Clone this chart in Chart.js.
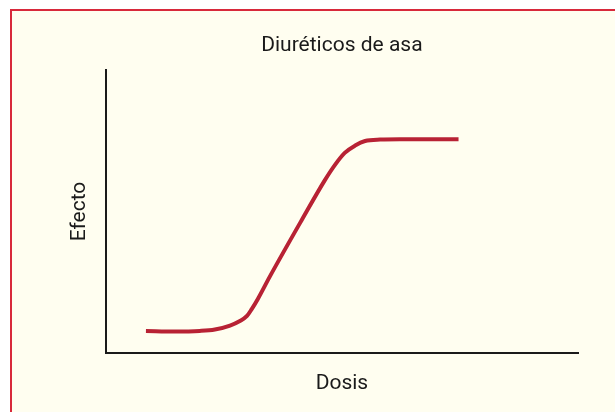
<!DOCTYPE html>
<html>
<head>
<meta charset="utf-8">
<script src="https://cdn.jsdelivr.net/npm/chart.js@4"></script>
<style>
  html, body { margin: 0; padding: 0; background: #fff; overflow: hidden; }
  #frame {
    position: absolute; left: 10px; top: 9px; width: 620px; height: 420px;
    border: 2px solid #d8293b; background: #fffef0;
  }
  #wrap { position: absolute; left: 0; top: 0; width: 615px; height: 412px; }
</style>
</head>
<body>
<div id="frame"></div>
<div id="wrap"><canvas id="chart" width="615" height="412"></canvas></div>
<script>
// curva dosis-respuesta (escala 0-100 en ambos ejes)
var dosis  = [8.5, 14.6, 19.9, 23.1, 26.3, 28.4, 29.9, 30.9, 32.2, 34.7, 41.5, 46.4, 48.5, 50.6, 52.8, 54.9, 58.1, 62.3, 74.7];
var efecto = [7.8, 7.6, 7.8, 8.3, 9.7, 11.3, 13.1, 15.5, 19.1, 26.9, 47.0, 61.1, 66.4, 70.7, 73.3, 74.9, 75.4, 75.5, 75.5];

var titulo = 'Diuréticos de asa';
var tituloX = 'Dosis';
var tituloY = 'Efecto';

var fuente = "'Liberation Sans Narrow', 'Arial Narrow', Roboto, sans-serif";

var puntos = dosis.map(function (d, i) { return { x: d, y: efecto[i] }; });

var ctx = document.getElementById('chart').getContext('2d');
var chart = new Chart(ctx, {
    type: 'line',
    data: {
        datasets: [{
            data: puntos,
            borderColor: '#b82234',
            borderWidth: 4,
            pointRadius: 0,
            fill: false,
            cubicInterpolationMode: 'monotone'
        }]
    },
    options: {
        responsive: false,
        animation: false,
        layout: { padding: { left: 0, right: 37, top: 0, bottom: 0 } },
        plugins: {
            legend: { display: false },
            tooltip: { enabled: false },
            title: {
                display: true,
                text: titulo,
                fullSize: false,
                color: '#1a1a1a',
                font: { family: fuente, size: 21, weight: 'normal', lineHeight: 1.2 },
                padding: { top: 33, bottom: 11.8 }
            }
        },
        scales: {
            x: {
                type: 'linear',
                min: 0,
                max: 100,
                grid: { display: false, drawTicks: false },
                ticks: { display: false },
                border: { display: true, color: '#1a1a1a', width: 2 },
                title: {
                    display: true,
                    text: tituloX,
                    color: '#1a1a1a',
                    font: { family: fuente, size: 21, weight: 'normal', lineHeight: 1.2 },
                    padding: { top: 18.4, bottom: 15.4 }
                }
            },
            y: {
                min: 0,
                max: 100,
                grid: { display: false, drawTicks: false },
                ticks: { display: false },
                border: { display: true, color: '#1a1a1a', width: 2 },
                title: {
                    display: true,
                    text: tituloY,
                    color: '#1a1a1a',
                    font: { family: fuente, size: 21, weight: 'normal', lineHeight: 1.2 },
                    padding: { top: 66.8, bottom: 13.8 }
                }
            }
        }
    }
});
</script>
</body>
</html>
